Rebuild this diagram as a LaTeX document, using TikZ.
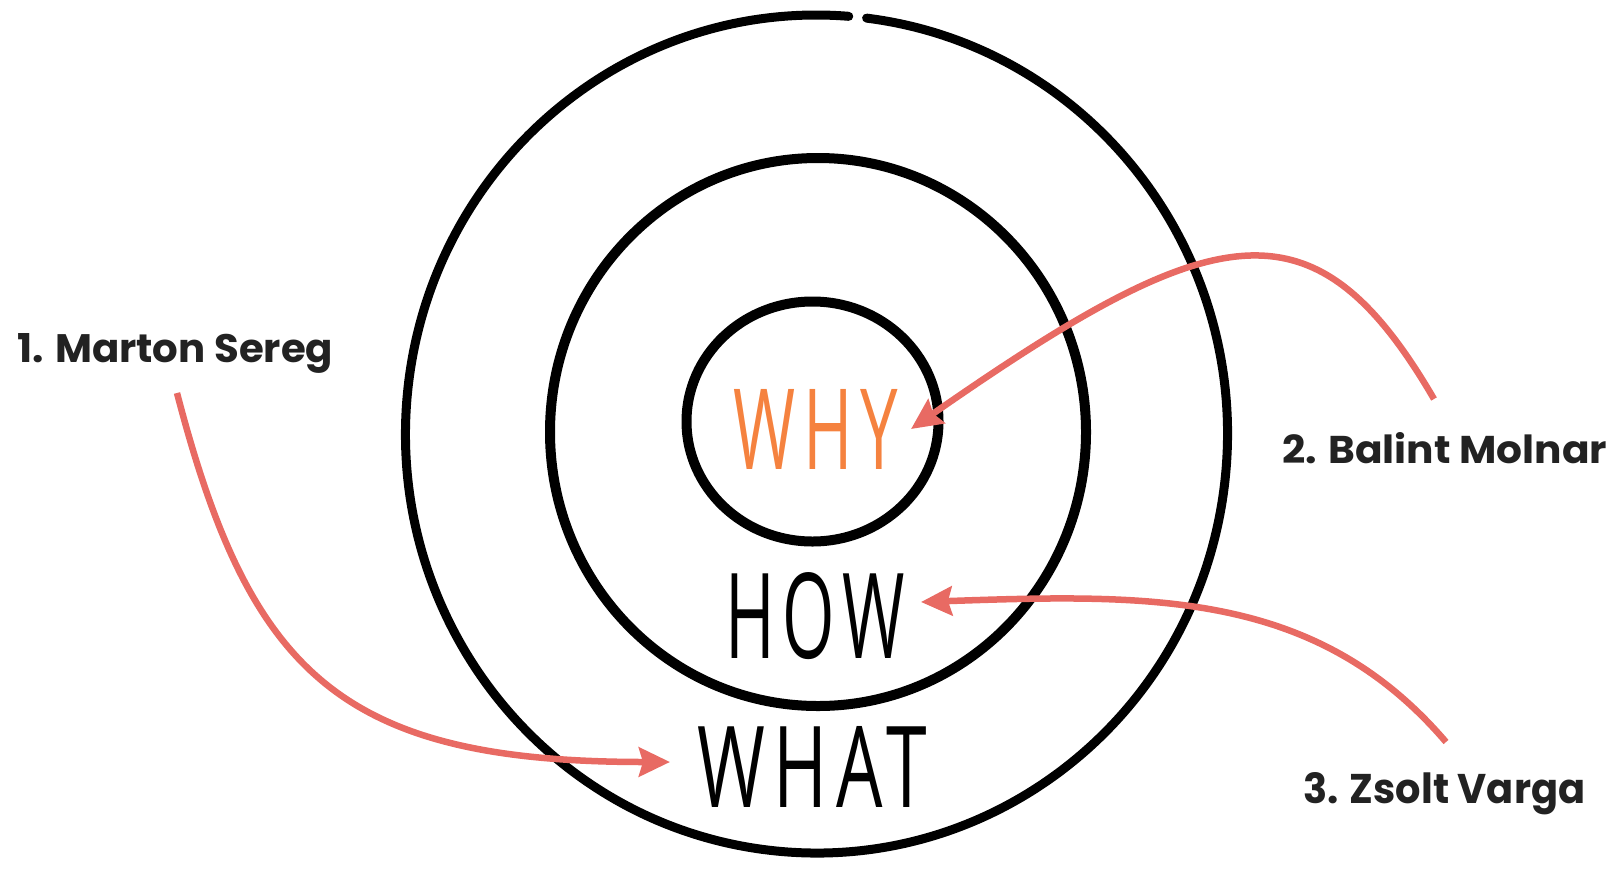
\documentclass[tikz,border=0pt]{standalone}
\usepackage{fontspec}
\usepackage{graphicx}
\usetikzlibrary{arrows.meta}
\newfontfamily\labelfont{Poppins}
\newfontfamily\handfont[LetterSpace=12]{Open Sans}
\definecolor{arrowred}{HTML}{E86A63}
\definecolor{whyorange}{HTML}{F5823F}
\definecolor{labelgray}{HTML}{222222}
\tikzset{
  ring/.style={draw=black, line width=10pt, line cap=round, line join=round},
  pointer/.style={draw=arrowred, line width=6.5pt, -{Stealth[length=31pt,width=29pt,inset=4pt]}},
  namelabel/.style={anchor=base west, inner sep=0pt, text=labelgray, font=\labelfont\bfseries},
  handword/.style={anchor=south west, inner sep=0pt, font=\handfont},
}
\begin{document}
\begin{tikzpicture}[x=1pt,y=-1pt]
\useasboundingbox (0,0) rectangle (1621,873);
% outer ring (open at top)
\draw[ring, line width=9pt] (816.5,434) ++(277:411 and 419) arc[start angle=277, end angle=634.5, x radius=411, y radius=419];
% middle ring
\draw[ring] (818,432) ellipse[x radius=268, y radius=274];
% inner ring
\draw[ring] (812.5,421.5) ellipse[x radius=126, y radius=120];
% words
\node[handword, text=whyorange] (why) at (733,470) {\resizebox{165pt}{80pt}{WHY}};
\node[handword, text=black] (how) at (725,660) {\resizebox{180pt}{86pt}{HOW}};
\node[handword, text=black] (what) at (697,808) {\resizebox{230pt}{81pt}{WHAT}};
% labels
\node[namelabel] (l1) at (17,362) {\resizebox{316pt}{29pt}{1. Marton Sereg}};
\node[namelabel] (l2) at (1282,463) {\resizebox{325pt}{31pt}{2. Balint Molnar}};
\node[namelabel] (l3) at (1303,803) {\resizebox{282pt}{31pt}{3. Zsolt Varga}};
% arrow anchors
\coordinate (s1) at (177,393);
\coordinate (s2) at (1434,399);
\coordinate (s3) at (1446,742);
\coordinate (t1) at (670,762);
\coordinate (t2) at (911,429);
\coordinate (t3) at (921,602);
\draw[pointer] (s1) .. controls (250,673) and (340,762) .. (t1);
\draw[pointer] (s2) .. controls (1314,193) and (1214,218) .. (t2);
\draw[pointer] (s3) .. controls (1316,590) and (1151,594) .. (t3);
\end{tikzpicture}
\end{document}
